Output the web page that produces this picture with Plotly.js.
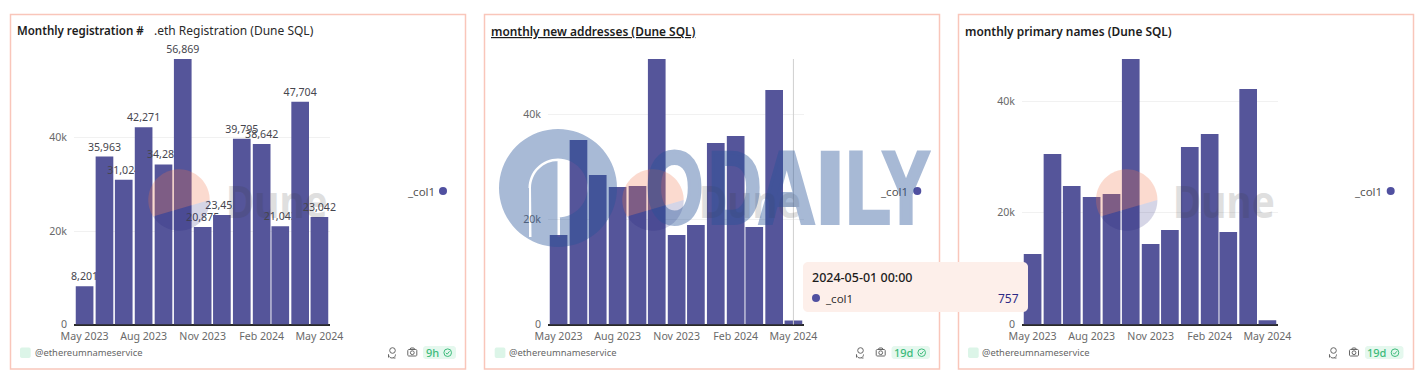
<!DOCTYPE html>
<html><head><meta charset="utf-8">
<script src="https://cdn.plot.ly/plotly-3.0.0.min.js"></script>
<style>html,body{margin:0;padding:0;background:#fff}#c{width:1427px;height:378px}</style>
</head><body><div id="c"></div>
<script>
const months = ['2023-05-01','2023-06-01','2023-07-01','2023-08-01','2023-09-01','2023-10-01','2023-11-01','2023-12-01','2024-01-01','2024-02-01','2024-03-01','2024-04-01','2024-05-01'];
const registrations = [8201,35963,31024,42271,34281,56869,20875,23452,39795,38642,21043,47704,23042];
const newAddresses = [17016,35111,28444,26159,26349,50540,17016,18921,34540,35873,18540,44635,757];
const primaryNames = [12597,30507,24776,22806,23343,47522,14388,16896,31761,34090,16537,42149,757];
const tickDates = ['2023-05-01','2023-08-01','2023-11-01','2024-02-01','2024-05-01'];
const tickLabels = ['May 2023','Aug 2023','Nov 2023','Feb 2024','May 2024'];
const yTicks = [0,20000,40000];
const yLabels = ['0','20k','40k'];

const W=1427,H=378,FONT='"Noto Sans", sans-serif',BAR='#55559a';
const px=x=>(x/W).toFixed(5), py=y=>(1-y/H).toFixed(5);
const poly=pts=>'M'+pts.map(p=>px(p[0])+','+py(p[1])).join('L')+'Z';
const open=pts=>'M'+pts.map(p=>px(p[0])+','+py(p[1])).join('L');
function arc(cx,cy,r,a0,a1,n=48){const o=[];for(let i=0;i<=n;i++){const a=(a0+(a1-a0)*i/n)*Math.PI/180;o.push([cx+r*Math.cos(a),cy+r*Math.sin(a)]);}return o;}
const pathShape=(d,fill,line,lw)=>({type:'path',xref:'paper',yref:'paper',layer:'above',path:d,fillcolor:fill||'rgba(0,0,0,0)',line:{color:line||'rgba(0,0,0,0)',width:lw||0}});
const circle=(cx,cy,r,fill,line,lw)=>({type:'circle',xref:'paper',yref:'paper',layer:'above',x0:(cx-r)/W,x1:(cx+r)/W,y0:1-(cy+r)/H,y1:1-(cy-r)/H,fillcolor:fill||'rgba(0,0,0,0)',line:{color:line||'rgba(0,0,0,0)',width:lw||0}});
function rrect(x0,y0,x1,y1,r){return poly([...arc(x1-r,y0+r,r,-90,0,8),...arc(x1-r,y1-r,r,0,90,8),...arc(x0+r,y1-r,r,90,180,8),...arc(x0+r,y0+r,r,180,270,8)]);}
const txt=(x,y,text,o={})=>({xref:'paper',yref:'paper',x:x/W,y:1-y/H,text,showarrow:false,xanchor:o.a||'left',yanchor:'middle',borderpad:0,borderwidth:0,opacity:o.op===undefined?1:o.op,
  font:{family:o.f||FONT,size:o.s||11,color:o.c||'#555',weight:o.w||400}});

const domains=[[74,330],[548,804],[1022,1278]];
const series=[registrations,newAddresses,primaryNames];
const data=[],layout={width:W,height:H,margin:{l:0,r:0,t:0,b:0,pad:0},paper_bgcolor:'#fff',plot_bgcolor:'rgba(0,0,0,0)',showlegend:false,bargap:0.05,hovermode:false,font:{family:FONT},shapes:[],annotations:[]};
series.forEach((vals,i)=>{
  const sfx=i?String(i+1):'';
  const tr={type:'bar',x:months,y:vals,xaxis:'x'+sfx,yaxis:'y'+sfx,name:'_col1',marker:{color:BAR,line:{width:0}},hoverinfo:'skip'};
  if(i===0){Object.assign(tr,{text:vals.map(v=>v.toLocaleString('en-US')),textposition:'outside',textangle:0,constraintext:'none',cliponaxis:false,textfont:{family:FONT,size:10.6,color:'#46464e'}});}
  data.push(tr);
  layout['xaxis'+sfx]={domain:[domains[i][0]/W,domains[i][1]/W],anchor:'y'+sfx,type:'date',range:['2023-04-14 12:00','2024-05-17 12:00'],tickmode:'array',tickvals:tickDates,ticktext:tickLabels,ticks:'',showgrid:false,showline:false,zeroline:false,tickfont:{family:FONT,size:10.6,color:'#6a6a6a'},ticklabelstandoff:4};
  layout['yaxis'+sfx]={domain:[1-324.5/H,1-59/H],anchor:'x'+sfx,range:[0,Math.max(...vals)],tickmode:'array',tickvals:yTicks,ticktext:yLabels,ticks:'',showgrid:true,gridcolor:'#f1f1f1',gridwidth:1,zeroline:true,zerolinecolor:'#2a2a2a',zerolinewidth:1.5,showline:false,tickfont:{family:FONT,size:10.6,color:'#6a6a6a'},ticklabelstandoff:6,ticklabelshift:-1.5};
});

const S=layout.shapes,A=layout.annotations;
const stretch=[]; // [annotation index, centre x, horizontal scale, stroke width]
[[10.5,465.5],[484.5,939.5],[958.5,1413.5]].forEach(([a,b])=>S.push({type:'rect',xref:'paper',yref:'paper',layer:'below',x0:a/W,x1:b/W,y0:1-369/H,y1:1-14.5/H,line:{color:'#f9c6ba',width:1.5},fillcolor:'rgba(0,0,0,0)'}));
A.push(txt(17,30.5,'Monthly registration #',{s:11.55,c:'#1c1c1c',w:600}));
A.push(txt(154,30.5,'.eth Registration (Dune SQL)',{s:12,c:'#2a2a2a'}));
A.push(txt(491,30.5,'<u>monthly new addresses (Dune SQL)</u>',{s:11.9,c:'#1c1c1c',w:600}));
A.push(txt(965,30.5,'monthly primary names (Dune SQL)',{s:11.9,c:'#1c1c1c',w:600}));
S.push({type:'line',xref:'x2',yref:'paper',layer:'above',x0:months[12],x1:months[12],y0:1-324.5/H,y1:1-59/H,line:{color:'#cfcfcf',width:1}});
const panels=[
 {logo:179,dune:276.5,leg:434.5,dot:443,sq:20,hand:35,i1:392,i2:412.3,b0:423,b1:456,bt:432.7,ck:447.7,age:'9h'},
 {logo:653,dune:750,leg:908,dot:917.3,sq:494.7,hand:509,i1:860,i2:880.7,b0:891.5,b1:930,bt:903,ck:921.7,age:'19d'},
 {logo:1126.7,dune:1224,leg:1382,dot:1390.7,sq:968,hand:982,i1:1333,i2:1354,b0:1365,b1:1403.5,bt:1376.7,ck:1395,age:'19d'}];
const G='#3dbb7b';
panels.forEach(p=>{
  const cy=200,r=30.7,aL=147.7,aR=0;
  S.push(pathShape(poly(arc(p.logo,cy,r,aL-360,aR)),'rgba(240,115,75,.265)'));
  S.push(pathShape(poly(arc(p.logo,cy,r,aR,aL)),'rgba(34,34,120,.19)'));
  stretch.push([A.length,p.dune,0.88,0]);
  A.push(txt(p.dune,201,'Dune',{a:'center',s:44,w:700,c:'#3c3c3c',op:.16}));
  A.push(txt(p.leg,191.5,'_col1',{a:'right',s:11.5,c:'#555'}));
  S.push(circle(p.dot,191,4,'#5050a0'));
  S.push(pathShape(rrect(p.sq,347.5,p.sq+10.7,358,2),'#dcf5e8'));
  A.push(txt(p.hand,352.5,'@ethereumnameservice',{s:9.4,c:'#666'}));
  const x=p.i1,y=352.5;
  S.push(circle(x+0.5,y-2,2.8,null,'#666',1));
  S.push(pathShape(open([[x-3.5,y+5],...arc(x,y+5,3.5,180,360,10).map(q=>[q[0],2*(y+5)-q[1]-3])]),null,'#666',1));
  S.push(pathShape(open([[x+1.5,y+5.5],[x+3.5,y+5.5]]),null,'#666',1));
  const c=p.i2;
  S.push(pathShape(rrect(c-4.5,y-3,c+4.5,y+3.5,1),null,'#666',1));
  S.push(pathShape(open([[c-2.5,y-3],[c-1.5,y-4.5],[c+1.5,y-4.5],[c+2.5,y-3]]),null,'#666',1));
  S.push(circle(c,y+0.2,1.9,null,'#666',1));
  S.push(pathShape(rrect(p.b0,346,p.b1,359,3),'#e5f8ee'));
  A.push(txt(p.bt,352.5,p.age,{a:'center',s:11,c:G,w:500}));
  S.push(circle(p.ck,352.7,3.8,null,G,1));
  S.push(pathShape(open([[p.ck-1.8,352.8],[p.ck-0.5,354.2],[p.ck+1.8,351.3]]),null,G,1));
});
const OD='rgb(38,82,152)',ox=558,oy=188;
const hole=[[529,237],[529,oy],...arc(ox,oy,29.5,180,270,16),...arc(ox,oy,29.5,-90,90,30),[560,oy+29.5],[560,237],[557.5,237],[557.5,oy-27],...arc(ox,oy,27,270,180,16),[531.5,237]];
S.push(pathShape(poly(arc(ox,oy,59,0,360,72))+poly(hole),'rgba(38,82,152,.4)'));
[['O',674,.72],['D',735,.72],['A',786.5,.78],['I',830,1],['L',868,.72],['Y',906.5,.7]].forEach(([l,x,sx])=>{
  stretch.push([A.length,x,sx,4]);
  A.push(txt(x,187.5,l,{a:'center',f:'"Liberation Sans Narrow", "Liberation Sans", sans-serif',s:102,w:700,c:OD,op:.4}));
});
S.push(pathShape(rrect(803,262,1028,312,5),'#fdefea'));
A.push(txt(812,277,'2024-05-01 00:00',{s:12.5,c:'#1c1c1c',w:500}));
S.push(circle(816,298,4,'#5050a0'));
A.push(txt(825,298.5,'_col1',{s:11.5,c:'#333'}));
A.push(txt(1019,298.5,String(newAddresses[12]),{a:'right',s:12,c:'#2d2a85'}));

Plotly.newPlot('c',data,layout,{displayModeBar:false,responsive:false}).then(()=>{
  // condense the watermark wordmarks about their centres (the text stays real text)
  stretch.forEach(([idx,cx,sx,sw])=>{
    const g=document.querySelector('.annotation[data-index="'+idx+'"]');
    if(!g)return;
    g.setAttribute('transform','translate('+cx+' 0) scale('+sx+' 1) translate('+(-cx)+' 0)');
    if(sw){const t=g.querySelector('text');if(t){t.style.stroke=OD;t.style.strokeWidth=sw+'px';}}
  });
});
</script></body></html>
